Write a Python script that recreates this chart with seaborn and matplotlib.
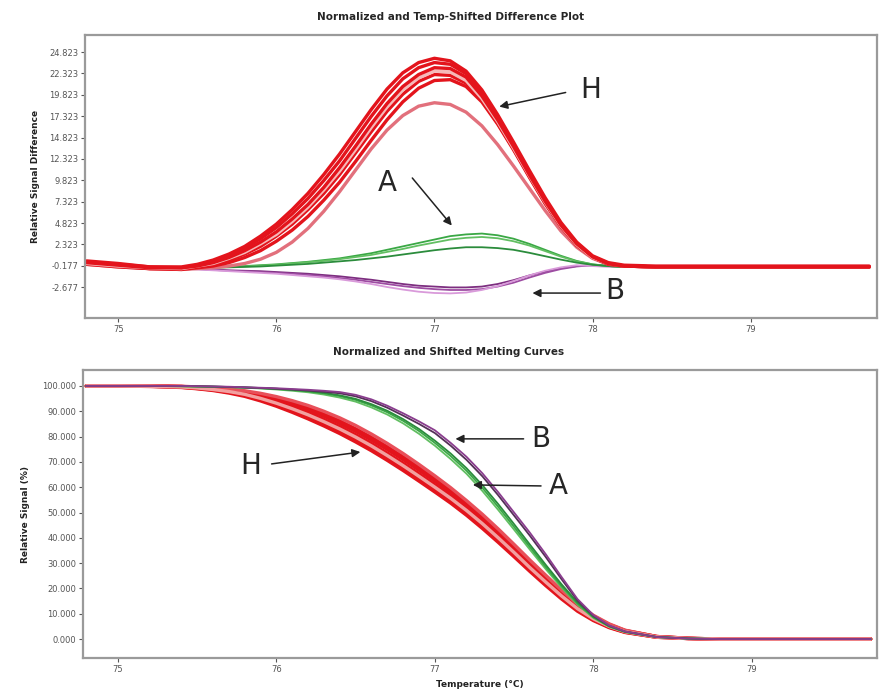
import pandas as pd
import seaborn as sns
import matplotlib
matplotlib.use("Agg")
import matplotlib.pyplot as plt

# temperature grid shared by every curve (deg C)
temps = [74.8, 75.0, 75.2, 75.4,
         75.5, 75.6, 75.7, 75.8, 75.9, 76.0, 76.1, 76.2, 76.3, 76.4,
         76.5, 76.6, 76.7, 76.8, 76.9, 77.0, 77.1, 77.2, 77.3, 77.4,
         77.5, 77.6, 77.7, 77.8, 77.9, 78.0, 78.1, 78.2,
         78.4, 78.6, 78.8, 79.0, 79.2, 79.4, 79.6, 79.75]

# ---- difference plot (top) ----
diff_H1 = [0.4, 0.1, -0.3, -0.3, 0.0, 0.5, 1.2, 2.1, 3.3, 4.7, 6.4, 8.3, 10.5, 12.9, 15.5, 18.1, 20.5, 22.4, 23.6, 24.1,
           23.8, 22.6, 20.4, 17.5, 14.3, 11.0, 7.8, 4.9, 2.6, 1.0, 0.2, -0.1, -0.2, -0.2, -0.2, -0.2, -0.2, -0.2, -0.2, -0.2]
diff_H2 = [0.3, 0.0, -0.3, -0.4, -0.1, 0.3, 1.0, 1.9, 3.0, 4.3, 5.9, 7.7, 9.8, 12.1, 14.7, 17.3, 19.7, 21.7, 23.0, 23.6,
           23.4, 22.3, 20.1, 17.2, 14.0, 10.7, 7.6, 4.7, 2.5, 0.9, 0.1, -0.2, -0.3, -0.3, -0.3, -0.3, -0.3, -0.3, -0.3, -0.3]
diff_H3 = [0.2, -0.1, -0.4, -0.4, -0.2, 0.2, 0.8, 1.6, 2.6, 3.8, 5.3, 7.0, 9.0, 11.3, 13.8, 16.4, 18.8, 20.8, 22.2, 23.0,
           22.9, 21.9, 19.7, 16.9, 13.8, 10.5, 7.4, 4.6, 2.4, 0.9, 0.1, -0.2, -0.3, -0.3, -0.3, -0.3, -0.3, -0.3, -0.3, -0.3]
diff_H4 = [0.1, -0.2, -0.4, -0.5, -0.2, 0.1, 0.7, 1.4, 2.4, 3.5, 5.0, 6.7, 8.7, 10.9, 13.4, 16.0, 18.4, 20.4, 21.8, 22.6,
           22.5, 21.5, 19.4, 16.7, 13.6, 10.4, 7.3, 4.5, 2.3, 0.8, 0.1, -0.2, -0.3, -0.3, -0.3, -0.3, -0.3, -0.3, -0.3, -0.3]
diff_H5 = [0.1, -0.2, -0.5, -0.5, -0.3, 0.0, 0.5, 1.2, 2.1, 3.3, 4.7, 6.4, 8.3, 10.5, 13.0, 15.5, 17.9, 19.9, 21.4, 22.2,
           22.1, 21.2, 19.2, 16.5, 13.5, 10.3, 7.2, 4.5, 2.3, 0.8, 0.1, -0.2, -0.3, -0.3, -0.3, -0.3, -0.3, -0.3, -0.3, -0.3]
diff_H6 = [0.0, -0.3, -0.5, -0.6, -0.4, -0.2, 0.2, 0.8, 1.6, 2.7, 4.0, 5.6, 7.5, 9.6, 12.0, 14.5, 16.9, 19.0, 20.6, 21.5,
           21.6, 20.8, 19.0, 16.4, 13.4, 10.2, 7.1, 4.4, 2.2, 0.8, 0.0, -0.2, -0.3, -0.3, -0.3, -0.3, -0.3, -0.3, -0.3, -0.3]
diff_H7 = [0.0, -0.3, -0.5, -0.6, -0.5, -0.4, -0.2, 0.1, 0.6, 1.4, 2.6, 4.2, 6.2, 8.5, 11.0, 13.5, 15.7, 17.4, 18.5, 18.9,
           18.7, 17.8, 16.2, 14.0, 11.5, 8.9, 6.3, 3.9, 2.0, 0.7, 0.0, -0.2, -0.3, -0.3, -0.3, -0.3, -0.3, -0.3, -0.3, -0.3]

diff_A1 = [0.2, -0.1, -0.4, -0.4, -0.4, -0.3, -0.3, -0.2, -0.1, 0.0, 0.15, 0.3, 0.5, 0.7, 1.0, 1.3, 1.7, 2.1, 2.5, 2.9,
           3.3, 3.5, 3.6, 3.4, 3.0, 2.4, 1.7, 1.0, 0.4, 0.0, -0.2, -0.3, -0.3, -0.3, -0.3, -0.3, -0.3, -0.3, -0.3, -0.3]
diff_A2 = [0.2, -0.1, -0.4, -0.4, -0.4, -0.35, -0.3, -0.25, -0.15, -0.05, 0.1, 0.25, 0.4, 0.6, 0.85, 1.1, 1.45, 1.8, 2.2, 2.55,
           2.9, 3.1, 3.2, 3.05, 2.7, 2.2, 1.55, 0.9, 0.35, 0.0, -0.2, -0.3, -0.3, -0.3, -0.3, -0.3, -0.3, -0.3, -0.3, -0.3]
diff_A3 = [0.2, -0.1, -0.4, -0.4, -0.45, -0.4, -0.35, -0.3, -0.25, -0.15, -0.05, 0.05, 0.2, 0.35, 0.5, 0.7, 0.9, 1.15, 1.4, 1.65,
           1.85, 2.0, 2.0, 1.9, 1.7, 1.35, 0.95, 0.55, 0.2, -0.05, -0.2, -0.3, -0.3, -0.3, -0.3, -0.3, -0.3, -0.3, -0.3, -0.3]

diff_B1 = [0.2, -0.1, -0.4, -0.5, -0.55, -0.6, -0.7, -0.75, -0.8, -0.9, -1.0, -1.1, -1.25, -1.4, -1.6, -1.8, -2.05, -2.3, -2.5, -2.6,
           -2.7, -2.7, -2.6, -2.3, -1.85, -1.3, -0.85, -0.45, -0.2, -0.1, -0.2, -0.3, -0.3, -0.3, -0.3, -0.3, -0.3, -0.3, -0.3, -0.3]
diff_B2 = [0.2, -0.1, -0.4, -0.5, -0.55, -0.65, -0.75, -0.8, -0.9, -1.0, -1.1, -1.25, -1.4, -1.6, -1.8, -2.05, -2.3, -2.55, -2.75, -2.9,
           -3.0, -3.0, -2.9, -2.6, -2.15, -1.55, -1.0, -0.55, -0.25, -0.1, -0.2, -0.3, -0.3, -0.3, -0.3, -0.3, -0.3, -0.3, -0.3, -0.3]
diff_B3 = [0.2, -0.1, -0.4, -0.5, -0.6, -0.7, -0.8, -0.9, -1.0, -1.1, -1.25, -1.4, -1.55, -1.75, -2.0, -2.3, -2.65, -2.95, -3.2, -3.35,
           -3.4, -3.3, -3.0, -2.55, -1.95, -1.3, -0.75, -0.35, -0.1, -0.2, -0.3, -0.3, -0.3, -0.3, -0.3, -0.3, -0.3, -0.3, -0.3, -0.3]

# ---- melting curves (bottom) ----
melt_H1 = [100.0, 100.0, 99.8, 99.4, 98.9, 98.2, 97.2, 95.9, 94.1, 92.0, 89.6, 87.0, 84.2, 81.2, 77.9, 74.4, 70.6, 66.6, 62.4, 58.1,
           53.7, 48.9, 43.7, 38.2, 32.5, 26.7, 21.1, 15.8, 11.0, 7.3, 4.5, 2.6, 0.7, 0.2, 0.0, 0.0, 0.0, 0.0, 0.0, 0.0]
melt_H2 = [100.0, 100.0, 99.9, 99.5, 99.0, 98.4, 97.5, 96.3, 94.6, 92.6, 90.3, 87.8, 85.1, 82.1, 78.9, 75.4, 71.6, 67.6, 63.4, 59.1,
           54.7, 49.9, 44.7, 39.1, 33.4, 27.5, 21.8, 16.4, 11.5, 7.6, 4.7, 2.7, 0.7, 0.2, 0.0, 0.0, 0.0, 0.0, 0.0, 0.0]
melt_H3 = [100.0, 100.0, 99.9, 99.6, 99.2, 98.6, 97.8, 96.7, 95.1, 93.2, 91.0, 88.6, 85.9, 83.0, 79.8, 76.3, 72.5, 68.5, 64.3, 60.0,
           55.6, 50.8, 45.6, 40.0, 34.2, 28.2, 22.5, 17.0, 12.0, 8.0, 5.0, 2.9, 0.8, 0.2, 0.0, 0.0, 0.0, 0.0, 0.0, 0.0]
melt_H4 = [100.0, 100.0, 99.9, 99.7, 99.3, 98.8, 98.1, 97.1, 95.6, 93.9, 91.8, 89.5, 86.8, 84.0, 80.8, 77.3, 73.5, 69.5, 65.3, 61.0,
           56.6, 51.8, 46.5, 40.9, 35.0, 29.0, 23.2, 17.6, 12.5, 8.4, 5.3, 3.1, 0.9, 0.2, 0.0, 0.0, 0.0, 0.0, 0.0, 0.0]
melt_H5 = [100.0, 100.0, 100.0, 99.8, 99.4, 99.0, 98.4, 97.5, 96.2, 94.6, 92.7, 90.5, 88.0, 85.2, 82.1, 78.6, 74.9, 70.9, 66.7, 62.3,
           57.8, 52.9, 47.6, 41.9, 36.0, 29.8, 23.9, 18.2, 13.0, 8.8, 5.6, 3.3, 1.0, 0.3, 0.0, 0.0, 0.0, 0.0, 0.0, 0.0]
melt_H6 = [100.0, 100.0, 100.0, 99.8, 99.5, 99.1, 98.6, 97.8, 96.6, 95.1, 93.4, 91.3, 88.9, 86.2, 83.1, 79.7, 76.0, 72.0, 67.8, 63.4,
           58.8, 53.8, 48.5, 42.7, 36.7, 30.5, 24.5, 18.7, 13.4, 9.1, 5.8, 3.4, 1.0, 0.3, 0.0, 0.0, 0.0, 0.0, 0.0, 0.0]
melt_H7 = [100.0, 100.0, 100.0, 99.9, 99.6, 99.3, 98.8, 98.1, 97.1, 95.8, 94.2, 92.3, 90.0, 87.4, 84.4, 81.0, 77.3, 73.3, 69.0, 64.5,
           59.8, 54.7, 49.3, 43.5, 37.4, 31.2, 25.2, 19.3, 13.9, 9.4, 6.0, 3.5, 1.0, 0.3, 0.0, 0.0, 0.0, 0.0, 0.0, 0.0]

melt_A1 = [100.0, 100.0, 100.0, 99.9, 99.8, 99.7, 99.6, 99.4, 99.1, 98.8, 98.4, 97.9, 97.1, 96.0, 94.5, 92.3, 89.6, 86.2, 82.2, 77.5,
           72.3, 66.5, 59.7, 52.2, 44.3, 36.3, 28.4, 20.9, 14.0, 8.6, 5.0, 2.8, 0.8, 0.2, 0.0, 0.0, 0.0, 0.0, 0.0, 0.0]
melt_A2 = [100.0, 100.0, 100.0, 99.9, 99.8, 99.7, 99.5, 99.3, 99.0, 98.6, 98.1, 97.5, 96.6, 95.4, 93.8, 91.5, 88.7, 85.2, 81.1, 76.4,
           71.1, 65.3, 58.5, 51.0, 43.2, 35.3, 27.6, 20.3, 13.6, 8.4, 4.9, 2.8, 0.8, 0.2, 0.0, 0.0, 0.0, 0.0, 0.0, 0.0]
melt_A3 = [100.0, 100.0, 100.0, 99.9, 99.8, 99.7, 99.6, 99.4, 99.2, 98.9, 98.5, 98.0, 97.3, 96.3, 94.9, 92.8, 90.2, 86.9, 83.0, 78.4,
           73.3, 67.5, 60.8, 53.3, 45.4, 37.3, 29.3, 21.6, 14.5, 8.9, 5.1, 2.9, 0.8, 0.2, 0.0, 0.0, 0.0, 0.0, 0.0, 0.0]

melt_B1 = [100.0, 100.0, 100.0, 100.0, 99.9, 99.8, 99.7, 99.5, 99.3, 99.1, 98.8, 98.5, 98.1, 97.6, 96.5, 94.7, 92.2, 89.2, 86.0, 82.5,
           77.5, 72.0, 65.5, 58.0, 50.0, 42.0, 33.5, 24.5, 15.8, 9.5, 5.4, 3.0, 0.8, 0.2, 0.0, 0.0, 0.0, 0.0, 0.0, 0.0]
melt_B2 = [100.0, 100.0, 100.0, 100.0, 99.9, 99.8, 99.6, 99.4, 99.2, 98.9, 98.6, 98.2, 97.7, 97.1, 95.9, 94.0, 91.4, 88.3, 85.0, 81.4,
           76.4, 70.8, 64.3, 56.8, 48.8, 40.8, 32.4, 23.6, 15.2, 9.2, 5.3, 3.0, 0.8, 0.2, 0.0, 0.0, 0.0, 0.0, 0.0, 0.0]

diff_ticks = [24.823, 22.323, 19.823, 17.323, 14.823, 12.323, 9.823, 7.323, 4.823, 2.323, -0.177, -2.677]
melt_ticks = [100, 90, 80, 70, 60, 50, 40, 30, 20, 10, 0]
temp_ticks = [75, 76, 77, 78, 79]

red, pale, pink = "#e3141c", "#f6b9b9", "#e2707c"
colors_top = {"H1": red, "H2": red, "H3": red, "H4": pale, "H5": red, "H6": red, "H7": pink,
              "A1": "#3aa845", "A2": "#62bf62", "A3": "#2b8c3c",
              "B1": "#7d2e80", "B2": "#9d4ca2", "B3": "#d99ada"}
colors_bot = {"H1": red, "H2": red, "H3": "#f2a0a0", "H4": red, "H5": red, "H6": red, "H7": "#e8505a",
              "A1": "#3aa845", "A2": "#62bf62", "A3": "#2b8c3c",
              "B1": "#8a3d8e", "B2": "#553058"}


def long_frame(curves):
    rows = []
    for name, vals in curves.items():
        assert len(vals) == len(temps), name
        for t, v in zip(temps, vals):
            rows.append({"temp": t, "val": v, "curve": name})
    return pd.DataFrame(rows)


top_groups = [
    ({"B1": diff_B1, "B2": diff_B2, "B3": diff_B3}, 1.3),
    ({"A1": diff_A1, "A2": diff_A2, "A3": diff_A3}, 1.3),
    ({"H7": diff_H7, "H6": diff_H6, "H5": diff_H5, "H4": diff_H4,
      "H3": diff_H3, "H2": diff_H2, "H1": diff_H1}, 2.4),
]
bot_groups = [
    ({"H1": melt_H1, "H2": melt_H2, "H4": melt_H4,
      "H5": melt_H5, "H6": melt_H6, "H7": melt_H7, "H3": melt_H3}, 2.4),
    ({"A2": melt_A2, "A1": melt_A1, "A3": melt_A3}, 1.3),
    ({"B2": melt_B2, "B1": melt_B1}, 1.3),
]

sns.set_theme(style="white")
plt.rcParams["font.family"] = ["DejaVu Sans"]

fig = plt.figure(figsize=(8.84, 6.95), dpi=100)
ax1 = fig.add_axes([0.0962, 0.5424, 0.8960, 0.4072])
ax2 = fig.add_axes([0.0939, 0.0532, 0.8982, 0.4144])

for curves, lw in top_groups:
    sns.lineplot(data=long_frame(curves), x="temp", y="val", hue="curve",
                 palette=colors_top, linewidth=lw, legend=False, sort=False,
                 estimator=None, ax=ax1)
for curves, lw in bot_groups:
    sns.lineplot(data=long_frame(curves), x="temp", y="val", hue="curve",
                 palette=colors_bot, linewidth=lw, legend=False, sort=False,
                 estimator=None, ax=ax2)

ax1.set(xlim=(74.79, 79.8), ylim=(-6.28, 26.82))
ax2.set(xlim=(74.78, 79.79), ylim=(-7.5, 106.3))
ax1.set_yticks(diff_ticks)
ax1.set_yticklabels([f"{v:.3f}" for v in diff_ticks])
ax2.set_yticks(melt_ticks)
ax2.set_yticklabels([f"{v:.3f}" for v in melt_ticks])

for ax in (ax1, ax2):
    ax.set_xticks(temp_ticks)
    ax.set_xticklabels([str(t) for t in temp_ticks])
    ax.tick_params(axis="both", labelsize=6, colors="#555555", length=3, width=0.8,
                   direction="out", left=True, bottom=True, pad=2)
    for s in ax.spines.values():
        s.set_color("#9a9a9a")
        s.set_linewidth(1.6)
    ax.set_xlabel("")
    ax.set_ylabel("")

ax1.set_ylabel("Relative Signal Difference", fontsize=6.5, fontweight="bold", color="#222222")
ax1.yaxis.set_label_coords(-0.057, 0.5)
ax2.set_ylabel("Relative Signal (%)", fontsize=6.5, fontweight="bold", color="#222222")
ax2.yaxis.set_label_coords(-0.067, 0.5)
ax2.set_xlabel("Temperature (\u00b0C)", fontsize=6.5, fontweight="bold", color="#222222", labelpad=4)

fig.text(451 / 884, 1 - 17 / 695, "Normalized and Temp-Shifted Difference Plot",
         ha="center", va="center", fontsize=7.5, fontweight="bold")
fig.text(449 / 884, 1 - 352 / 695, "Normalized and Shifted Melting Curves",
         ha="center", va="center", fontsize=7.5, fontweight="bold")

arrow = dict(arrowstyle="-|>", color="#222222", lw=1.1, mutation_scale=12, shrinkA=0, shrinkB=0)

# labels on the difference plot
ax1.text(77.99, 20.34, "H", fontsize=20, ha="center", va="center")
ax1.annotate("", xy=(77.41, 18.45), xytext=(77.83, 20.1), arrowprops=arrow)
ax1.text(76.70, 9.49, "A", fontsize=20, ha="center", va="center")
ax1.annotate("", xy=(77.11, 4.54), xytext=(76.86, 10.1), arrowprops=arrow)
ax1.text(78.14, -3.12, "B", fontsize=20, ha="center", va="center")
ax1.annotate("", xy=(77.62, -3.36), xytext=(78.05, -3.36), arrowprops=arrow)

# labels on the melting curves
ax2.text(75.84, 68.4, "H", fontsize=20, ha="center", va="center")
ax2.annotate("", xy=(76.53, 73.9), xytext=(75.97, 69.2), arrowprops=arrow)
ax2.text(77.67, 79.1, "B", fontsize=20, ha="center", va="center")
ax2.annotate("", xy=(77.13, 79.1), xytext=(77.56, 79.1), arrowprops=arrow)
ax2.text(77.78, 60.5, "A", fontsize=20, ha="center", va="center")
ax2.annotate("", xy=(77.24, 60.9), xytext=(77.67, 60.5), arrowprops=arrow)

fig.savefig("out.png", dpi=100)
